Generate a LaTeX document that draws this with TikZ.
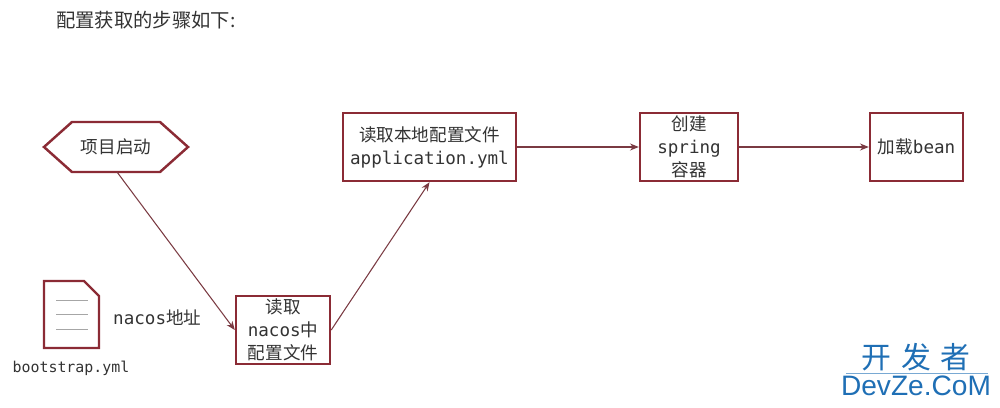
\documentclass[tikz,border=0pt]{standalone}
\usepackage{fontspec}
\setmainfont{DejaVu Sans Mono}
\newfontfamily\cjk{Noto Sans CJK SC}
\newfontfamily\mono{DejaVu Sans Mono}
\newfontfamily\wm{Liberation Sans}
\usetikzlibrary{arrows.meta}
\definecolor{bd}{HTML}{8B2B35}
\definecolor{ln}{HTML}{7A3A42}
\definecolor{tx}{HTML}{333333}
\definecolor{wmc}{HTML}{1F6FB5}
\begin{document}
\begin{tikzpicture}[x=0.02cm,y=-0.02cm,
  box/.style={draw=bd,line width=1.4pt,fill=white,align=center,text=tx,font=\fontsize{10}{13}\selectfont,inner sep=0pt},
  conn/.style={draw=ln,line width=0.6pt,-{Stealth[length=5pt,width=4pt]}}]
\useasboundingbox (0,0) rectangle (1000,408);
\node[anchor=west,text=tx,font=\cjk\fontsize{11}{13}\selectfont] (title) at (50,20) {配置获取的步骤如下:};
% hexagon
\draw[draw=bd,line width=1.4pt] (44,147) -- (72,122) -- (160,122) -- (188,147) -- (160,172) -- (72,172) -- cycle;
\node[text=tx,font=\cjk\fontsize{10}{13}\selectfont] (start) at (116,147) {项目启动};
\coordinate (hexb) at (117,172);
\node[box,minimum width=1.88cm,minimum height=1.36cm] (nacos) at (283,330) {{\cjk 读取}\\nacos{\cjk 中}\\{\cjk 配置文件}};
\node[box,minimum width=3.46cm,minimum height=1.36cm] (app) at (429.5,147) {{\cjk 读取本地配置文件}\\application.yml};
\node[box,minimum width=1.96cm,minimum height=1.36cm] (spring) at (689,147) {{\cjk 创建}\\spring\\{\cjk 容器}};
\node[box,minimum width=1.86cm,minimum height=1.36cm] (bean) at (916.5,147) {{\cjk 加载}bean};
\draw[conn] (hexb) -- (nacos.west);
\draw[conn] (nacos.east) -- (app.south);
\draw[conn] (app.east) -- (spring.west);
\draw[conn] (spring.east) -- (bean.west);
% document icon
\draw[draw=bd,line width=1.4pt] (44,281) -- (84,281) -- (99,296) -- (99,348) -- (44,348) -- cycle;
\draw[gray!70,line width=0.4pt] (56,300) -- (88,300) (56,314) -- (88,314) (56,329) -- (88,329);
\node[anchor=west,text=tx,font=\fontsize{10}{13}\selectfont] (addr) at (107,318) {nacos{\cjk 地址}};
\node[text=tx,font=\fontsize{8.5}{10}\selectfont] (boot) at (71,368) {bootstrap.yml};
% watermark
\node[text=wmc,font=\cjk\fontsize{17}{18}\selectfont] (wm1) at (916,357) {开\,\,发\,\,者};
\draw[wmc!60,line width=0.4pt] (846,373) -- (988,373);
\node[text=wmc,font=\wm\fontsize{16}{18}\selectfont] (wm2) at (916,386) {DevZe.CoM};
\end{tikzpicture}
\end{document}
